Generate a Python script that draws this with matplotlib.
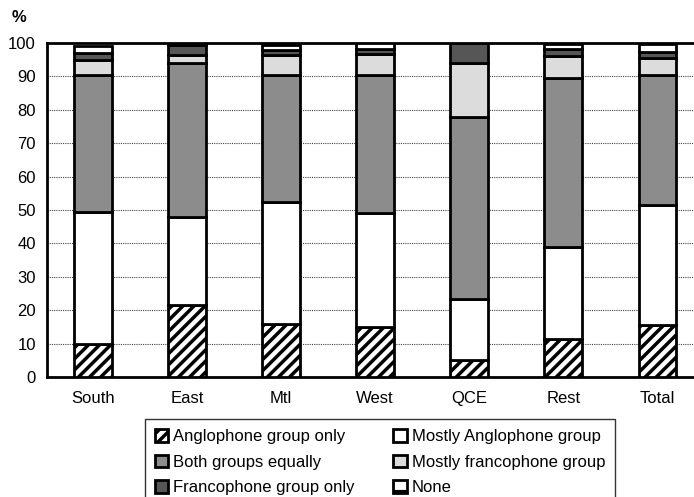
import matplotlib.pyplot as plt
from matplotlib.patches import Patch
import numpy as np

plt.rcParams['font.family'] = ['Liberation Sans', 'DejaVu Sans']
plt.rcParams['hatch.linewidth'] = 2.5

regions = ["South", "East", "Mtl", "West", "QCE", "Rest", "Total"]

# shares by region (%), bottom to top of each bar
anglo_only = [10.0, 21.5, 16.0, 15.0, 5.0, 11.5, 15.5]
mostly_anglo = [39.5, 26.5, 36.5, 34.0, 18.5, 27.5, 36.0]
both_equal = [41.0, 46.0, 37.9, 41.4, 54.3, 50.5, 38.8]
mostly_franco = [4.3, 2.3, 6.0, 6.4, 16.2, 6.5, 5.2]
franco_only = [2.2, 3.0, 1.6, 1.3, 6.0, 2.2, 1.8]
none = [2.0, 0.5, 1.3, 1.9, 0.0, 1.6, 2.5]

series = [
    ("Anglophone group only", anglo_only, "white", "///"),
    ("Mostly Anglophone group", mostly_anglo, "white", None),
    ("Both groups equally", both_equal, "#8c8c8c", None),
    ("Mostly francophone group", mostly_franco, "#dcdcdc", None),
    ("Francophone group only", franco_only, "#565656", None),
    ("None", none, "white", "-"),
]

fig = plt.figure(figsize=(6.94, 4.97), dpi=100)
ax = fig.add_axes([47 / 694, 1 - 377 / 497, 1 - 47 / 694, (377 - 43) / 497])

x = np.arange(len(regions))
bottom = np.zeros(len(regions))
handles = {}
for name, vals, col, hatch in series:
    vals = np.array(vals)
    ax.bar(x, vals, 0.4, bottom=bottom, color=col, edgecolor="black",
           linewidth=2, hatch=hatch, zorder=3)
    bottom += vals
    handles[name] = Patch(facecolor=col, edgecolor="black", linewidth=2, hatch=hatch)

ax.set_ylim(0, 100)
ax.set_xlim(-0.49, 6.39)
ax.set_yticks(range(0, 101, 10))
ax.set_xticks(x)
ax.set_xticklabels(regions, fontsize=12)
ax.tick_params(axis="y", labelsize=12, length=0, pad=8)
ax.tick_params(axis="x", length=0, pad=10)
ax.yaxis.grid(True, linestyle=(0, (1, 1)), color="#444444", linewidth=0.8, zorder=0)
for side in ["left", "bottom", "top"]:
    ax.spines[side].set_linewidth(2)
ax.spines["right"].set_visible(False)

fig.text(12 / 694, 1 - 17 / 497, "%", fontsize=12, fontweight="bold", va="center")

order = ["Anglophone group only", "Both groups equally", "Francophone group only",
         "Mostly Anglophone group", "Mostly francophone group", "None"]
leg = fig.legend([handles[n] for n in order], order, ncol=2, loc="upper left",
                 bbox_to_anchor=(145 / 694, 1 - 419 / 497), borderaxespad=0,
                 fontsize=12, frameon=True, fancybox=False, edgecolor="black",
                 handlelength=0.8, handleheight=0.8, handletextpad=0.3,
                 columnspacing=2.3, labelspacing=0.62, borderpad=0.6)
leg.get_frame().set_linewidth(1)

fig.savefig("out.png", dpi=100)
